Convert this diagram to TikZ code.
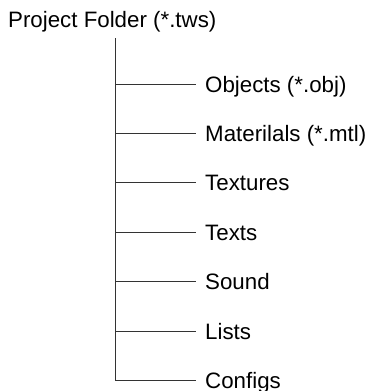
\documentclass[tikz,border=0pt]{standalone}
\usepackage{fontspec}
\setmainfont{Liberation Sans}
\begin{document}
\begin{tikzpicture}[x=1pt,y=-1pt,
  lbl/.style={anchor=base west,inner sep=0pt,font=\fontsize{22.3}{24}\selectfont,text=black},
  conn/.style={draw=black!80,line width=0.9pt}]
\useasboundingbox[fill=white] (0,0) rectangle (367,391);
\node[lbl] (root) at (8,27.5) {Project Folder (*.tws)};
\coordinate (top) at (115,38);
\coordinate (bot) at (115,380.4);
\draw[conn] (top) -- (bot);
\foreach \n/\y/\t in {1/84/{Objects (*.obj)},2/133.4/{Materilals (*.mtl)},3/182.8/{Textures},4/232.2/{Texts},5/281.6/{Sound},6/331/{Lists},7/380.4/{Configs}}{
  \coordinate (s\n) at (115,\y);
  \coordinate (e\n) at (196,\y);
  \node[lbl] (c\n) at (205,\y+8) {\t};
  \draw[conn] (s\n) -- (e\n);
}
\end{tikzpicture}
\end{document}
